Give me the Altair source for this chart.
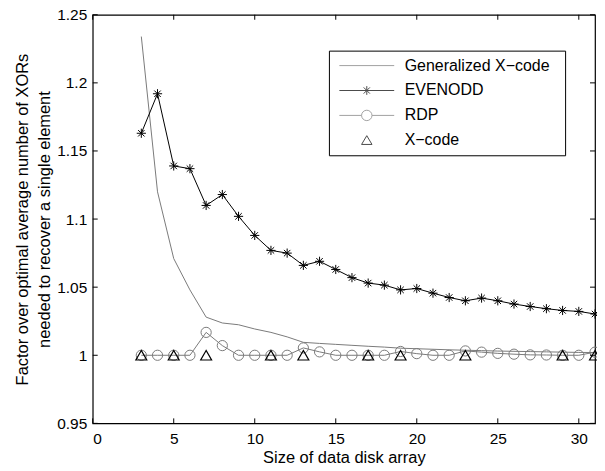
import altair as alt
import pandas as pd

# ---------------- data ----------------
sizes = list(range(3, 32))

generalized_xcode = [1.234, 1.120, 1.071, 1.048, 1.028, 1.0237, 1.0224, 1.0193, 1.0168, 1.0135,
                     1.0095, 1.0087, 1.0080, 1.0073, 1.0066, 1.0060, 1.0052, 1.0048, 1.0044, 1.0040,
                     1.0037, 1.0034, 1.0031, 1.0029, 1.0027, 1.0025, 1.0023, 1.0021, 1.0020]

evenodd = [1.163, 1.192, 1.139, 1.137, 1.110, 1.118, 1.102, 1.088, 1.077, 1.075,
           1.066, 1.069, 1.063, 1.057, 1.053, 1.0515, 1.048, 1.049, 1.0456, 1.0424,
           1.040, 1.042, 1.040, 1.0376, 1.0358, 1.0342, 1.0329, 1.0322, 1.0303]

rdp = [1.0, 1.0, 1.0, 1.0, 1.0168, 1.0071, 1.0, 1.0, 1.0, 1.0,
       1.0054, 1.0025, 1.0, 1.0, 1.0, 1.0, 1.0028, 1.0012, 1.0, 1.0,
       1.0032, 1.0023, 1.0014, 1.0008, 1.0003, 1.0002, 1.0, 1.0, 1.0023]

xcode_sizes = [3, 5, 7, 11, 13, 17, 19, 23, 29, 31]
xcode = [1.0, 1.0, 1.0, 1.0, 1.0, 1.0, 1.0, 1.0, 1.0, 1.0]

series_names = ["Generalized X\u2212code", "EVENODD", "RDP", "X\u2212code"]

x_ticks = [0, 5, 10, 15, 20, 25, 30]
y_ticks = [0.95, 1.0, 1.05, 1.1, 1.15, 1.2, 1.25]

# ---------------- styling ----------------
FONT = "Liberation Sans"
GRAY = "#7a7a7a"
W, H = 504, 410

gen_df = pd.DataFrame({"x": sizes, "y": generalized_xcode})
eo_df = pd.DataFrame({"x": sizes, "y": evenodd})
rdp_df = pd.DataFrame({"x": sizes, "y": rdp})
xc_df = pd.DataFrame({"x": xcode_sizes, "y": xcode})
legend_df = pd.DataFrame({"series": series_names, "x": [-5] * 4, "y": [1.0] * 4})
xt_df = pd.DataFrame({"v": x_ticks})
yt_df = pd.DataFrame({"v": y_ticks})

x_scale = alt.Scale(domain=[0, 31], nice=False, zero=False)
y_scale = alt.Scale(domain=[0.95, 1.25], nice=False, zero=False)

x_axis = alt.Axis(values=x_ticks, ticks=False, domain=False, grid=False,
                  labelFont=FONT, labelFontSize=15.5, labelColor="black", labelPadding=8,
                  title="Size of data disk array", titleFont=FONT, titleFontSize=16.5,
                  titleFontWeight="normal", titleColor="black", titlePadding=3)
y_axis = alt.Axis(values=y_ticks, ticks=False, domain=False, grid=False, format="~g",
                  labelFont=FONT, labelFontSize=15.5, labelColor="black", labelPadding=6,
                  title=["Factor over optimal average number of XORs",
                         "needed to recover a single element"],
                  titleFont=FONT, titleFontSize=16.5, titleFontWeight="normal",
                  titleColor="black", titlePadding=4, titleLineHeight=22.5)

X = alt.X("x:Q", scale=x_scale, axis=x_axis)
Y = alt.Y("y:Q", scale=y_scale, axis=y_axis)
Xn = alt.X("x:Q", scale=x_scale)
Yn = alt.Y("y:Q", scale=y_scale)

asterisk = "M0,-1L0,1M-1,0L1,0M-0.7,-0.7L0.7,0.7M-0.7,0.7L0.7,-0.7"

gen_line = alt.Chart(gen_df).mark_line(color=GRAY, strokeWidth=1).encode(x=X, y=Y)
eo_line = alt.Chart(eo_df).mark_line(color="black", strokeWidth=1).encode(x=Xn, y=Yn)
eo_pts = alt.Chart(eo_df).mark_point(shape=asterisk, size=85, stroke="black",
                                     strokeWidth=1, filled=False, opacity=1).encode(x=Xn, y=Yn)
rdp_line = alt.Chart(rdp_df).mark_line(color=GRAY, strokeWidth=1).encode(x=Xn, y=Yn)
rdp_pts = alt.Chart(rdp_df).mark_point(shape="circle", size=105, stroke=GRAY,
                                       strokeWidth=1, filled=False, opacity=1).encode(x=Xn, y=Yn)
xc_pts = alt.Chart(xc_df).mark_point(shape="triangle-up", size=120, stroke="black",
                                     strokeWidth=1.2, filled=False, opacity=1).encode(x=Xn, y=Yn)

leg_paths = [
    "M-1,0L1,0",
    "M-1,0L1,0M0,-0.16L0,0.16M-0.113,-0.113L0.113,0.113M-0.113,0.113L0.113,-0.113",
    "M-1,0L-0.19,0M0.19,0L1,0M0.19,0A0.19,0.19 0 1,1 -0.19,0A0.19,0.19 0 1,1 0.19,0",
    "M0,-0.17L0.19,0.15L-0.19,0.15Z",
]
leg_colors = [GRAY, "black", GRAY, "black"]

legend = alt.Legend(orient="none", legendX=237, legendY=36, title=" ",
                    titleOrient="right", titlePadding=9, titleFontSize=16,
                    padding=7, clipHeight=16, rowPadding=9, symbolSize=3025,
                    symbolOffset=3, symbolStrokeWidth=1, labelFont=FONT, labelFontSize=16,
                    labelColor="black", labelOffset=10, strokeColor="black",
                    fillColor="white")

legend_layer = alt.Chart(legend_df).mark_point(clip=True, filled=False, strokeWidth=1,
                                               size=3025).encode(
    x=Xn, y=Yn,
    shape=alt.Shape("series:N", scale=alt.Scale(domain=series_names, range=leg_paths),
                    legend=legend),
    stroke=alt.Stroke("series:N", scale=alt.Scale(domain=series_names, range=leg_colors),
                      legend=legend),
)

tick_len = 5
xt_bottom = alt.Chart(xt_df).mark_rule(color="black", strokeWidth=1).encode(
    x=alt.X("v:Q", scale=x_scale), y=alt.value(H), y2=alt.value(H - tick_len))
xt_top = alt.Chart(xt_df).mark_rule(color="black", strokeWidth=1).encode(
    x=alt.X("v:Q", scale=x_scale), y=alt.value(0), y2=alt.value(tick_len))
yt_left = alt.Chart(yt_df).mark_rule(color="black", strokeWidth=1).encode(
    y=alt.Y("v:Q", scale=y_scale), x=alt.value(0), x2=alt.value(tick_len))
yt_right = alt.Chart(yt_df).mark_rule(color="black", strokeWidth=1).encode(
    y=alt.Y("v:Q", scale=y_scale), x=alt.value(W), x2=alt.value(W - tick_len))

chart = alt.layer(
    gen_line, eo_line, eo_pts, rdp_line, rdp_pts, xc_pts, legend_layer,
    xt_bottom, xt_top, yt_left, yt_right,
).properties(
    width=W, height=H,
    autosize=alt.AutoSizeParams(type="none"),
    padding={"left": 85, "top": 6, "right": 2, "bottom": 45},
    background="white",
).configure_view(
    stroke="black", strokeWidth=1.2
)

chart.save("out.html", embed_options={"renderer": "svg", "actions": False})
